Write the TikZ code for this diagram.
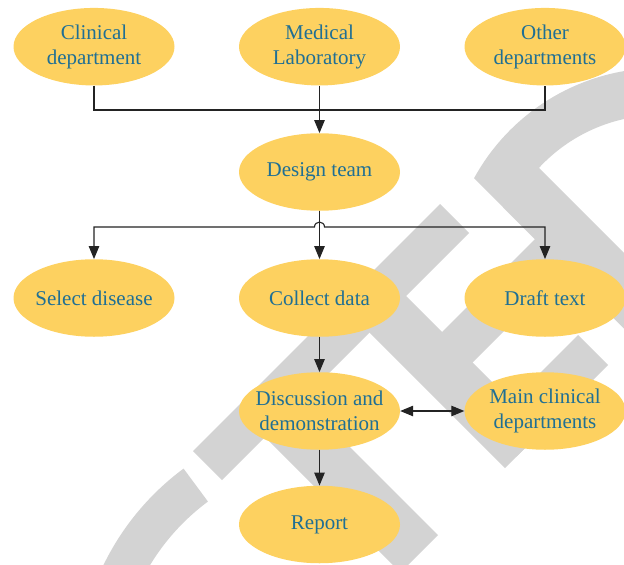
\documentclass[tikz,border=0pt]{standalone}
\usepackage{fontspec}
\setmainfont{Liberation Serif}
\usetikzlibrary{shapes.geometric,arrows.meta,calc}
\definecolor{blobfill}{RGB}{253,209,96}
\definecolor{blobtext}{RGB}{31,111,148}
\definecolor{wmgray}{RGB}{211,211,211}
\definecolor{linec}{RGB}{35,35,35}
\tikzset{
  blob/.style={ellipse, fill=blobfill, minimum width=161pt, minimum height=77.5pt, inner sep=0pt},
  lbl/.style={text=blobtext, font=\rmfamily\fontsize{21}{25}\selectfont, align=center, inner sep=0pt},
  conn/.style={draw=linec, line width=1.1pt},
  tip/.tip={Triangle[length=13pt,width=10.5pt]},
  arr/.style={conn, -tip},
  darr/.style={conn, tip-tip},
  wm/.style={fill=wmgray}
}
\begin{document}
\begin{tikzpicture}[x=1pt,y=-1pt]
\useasboundingbox (0,0) rectangle (624,565);
% watermark
\begin{scope}
\clip (0,0) rectangle (624,565);
\fill[wm] (440,204) -- (469,233) -- (222,480) -- (193,451) -- cycle;
\fill[wm] (291.5,388.5) -- (438,535) -- (400.5,572.5) -- (254,426) -- cycle;
\fill[wm] (395,285) -- (541.5,431.5) -- (505,468) -- (358.5,321.5) -- cycle;
\fill[wm] (486.5,426.5) -- (578,335) -- (608,365) -- (516.5,456.5) -- cycle;
\fill[wm] (427,347) -- (547,227) -- (577.5,257.5) -- (457.5,377.5) -- cycle;
\fill[wm] plot[domain=208.7:280,samples=40] ({660+212*cos(\x)},{280+212*sin(\x)})
  -- plot[domain=280:222.8,samples=40] ({660+165*cos(\x)},{280+165*sin(\x)})
  -- (700,329) -- (700,405) -- cycle;
\fill[wm] plot[domain=233.5:195,samples=40] ({340+263*cos(\x)},{680+263*sin(\x)})
  -- plot[domain=195:233.5,samples=40] ({340+222*cos(\x)},{680+222*sin(\x)}) -- cycle;
\end{scope}
% nodes
\node[blob, label={[lbl]center:{Clinical\\department}}] (clin) at (94,46.7) {};
\node[blob, label={[lbl]center:{Medical\\Laboratory}}] (med) at (319.5,46.7) {};
\node[blob, label={[lbl]center:{Other\\departments}}] (oth) at (545,46.7) {};
\node[blob, label={[lbl]center:{Design team}}] (design) at (319.5,172) {};
\node[blob, label={[lbl]center:{Select disease}}] (sel) at (94,298) {};
\node[blob, label={[lbl]center:{Collect data}}] (coll) at (319.5,298) {};
\node[blob, label={[lbl]center:{Draft text}}] (draft) at (545,298) {};
\node[blob, label={[lbl]center:{Discussion and\\demonstration}}] (disc) at (319.5,411) {};
\node[blob, label={[lbl]center:{Main clinical\\departments}}] (mainc) at (545,411) {};
\node[blob, label={[lbl]center:{Report}}] (report) at (319.5,524.5) {};
% junctions
\coordinate (j1) at (319.5,110);
\coordinate (j2) at (319.5,227);
% connectors
\draw[conn] (clin.south) -- (clin.south |- j1) -- (oth.south |- j1) -- (oth.south);
\draw[arr] (med.south) -- (design.north);
\draw[arr] (design.south) -- (coll.north);
\draw[darr] (sel.north) -- (sel.north |- j2) -- ($(j2)+(-5,0)$)
  .. controls ($(j2)+(-5,-6.5)$) and ($(j2)+(5,-6.5)$) .. ($(j2)+(5,0)$)
  -- (draft.north |- j2) -- (draft.north);
\draw[arr] (coll.south) -- (disc.north);
\draw[darr] (disc.east) -- (mainc.west);
\draw[arr] (disc.south) -- (report.north);
\end{tikzpicture}
\end{document}
